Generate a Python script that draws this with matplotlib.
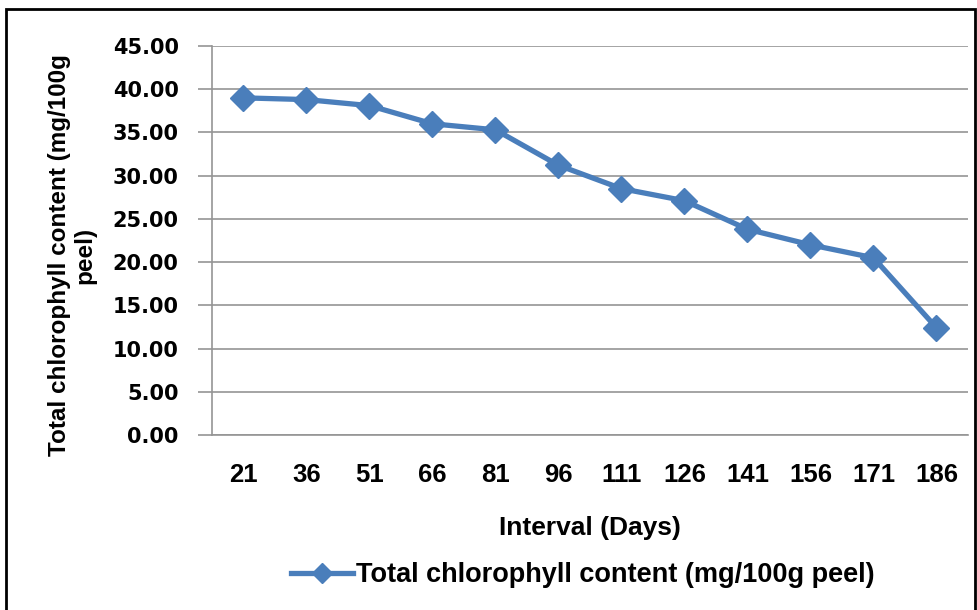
import matplotlib.pyplot as plt
from matplotlib.patches import Rectangle

days = ["21", "36", "51", "66", "81", "96", "111", "126", "141", "156", "171", "186"]
chlorophyll = [39.0, 38.8, 38.1, 36.0, 35.3, 31.2, 28.5, 27.1, 23.8, 22.0, 20.5, 12.4]
y_ticks = [0, 5, 10, 15, 20, 25, 30, 35, 40, 45]

blue = "#4a7ebb"
grid_gray = "#959595"
font = "Liberation Sans"

fig = plt.figure(figsize=(9.78, 6.10), dpi=100)
ax = fig.add_axes([212 / 978, 1 - 435 / 610, 756 / 978, 389 / 610])

x = list(range(len(days)))
ax.plot(x, chlorophyll, color=blue, lw=3.8, marker="D", markersize=13,
        label="Total chlorophyll content (mg/100g peel)", zorder=3)

ax.set_xlim(-0.5, len(days) - 0.5)
ax.set_ylim(0, 45)
ax.set_yticks(y_ticks)
ax.set_yticklabels([f"{v:.2f}" for v in y_ticks], fontsize=15, fontweight="bold",
                   family="DejaVu Sans")
ax.set_xticks(x)
ax.set_xticklabels(days, fontsize=18.5, fontweight="bold", family=font)

ax.grid(axis="y", color=grid_gray, lw=1.2)
ax.set_axisbelow(True)
for s in ["top", "right"]:
    ax.spines[s].set_visible(False)
ax.spines["left"].set_color(grid_gray)
ax.spines["bottom"].set_color(grid_gray)
ax.spines["left"].set_linewidth(1.2)
ax.spines["bottom"].set_linewidth(1.2)
ax.tick_params(axis="y", length=10, color=grid_gray, width=1.2, pad=14)
ax.tick_params(axis="x", length=0, pad=20)

ax.set_xlabel("Interval (Days)", fontsize=19, fontweight="bold", family=font, labelpad=21)
fig.text(72 / 978, 1 - 255 / 610, "Total chlorophyll content (mg/100g\npeel)",
         rotation=90, ha="center", va="center", fontsize=17.5, fontweight="bold",
         family=font, linespacing=1.15)

fig.legend(loc="center", bbox_to_anchor=(583 / 978, 1 - 575 / 610), frameon=False,
           prop={"family": font, "size": 19.5, "weight": "bold"},
           handlelength=2.3, handletextpad=0.1, markerscale=0.75)

fig.patches.append(Rectangle((6 / 978, -0.02), 969 / 978, 1 - 9 / 610 + 0.02,
                             transform=fig.transFigure, fill=False, ec="black", lw=2))

fig.savefig("out.png", dpi=100)
